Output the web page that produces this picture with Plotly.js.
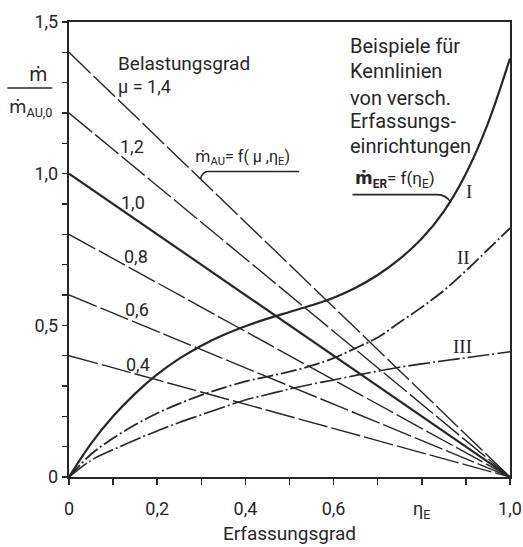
<!DOCTYPE html>
<html>
<head>
<meta charset="utf-8">
<script src="https://cdn.plot.ly/plotly-3.0.1.min.js"></script>
<style>html,body{margin:0;padding:0;background:#fff;}#chart{width:523px;height:547px;}</style>
</head>
<body>
<div id="chart"></div>
<script>
// ---- data ----
const eta = [0, 0.05, 0.1, 0.15, 0.2, 0.25, 0.3, 0.35, 0.4, 0.45, 0.5, 0.55, 0.6, 0.65, 0.7, 0.75, 0.8, 0.85, 0.9, 0.95, 1.0];
const curveI   = [0, 0.11, 0.20, 0.275, 0.338, 0.39, 0.433, 0.468, 0.497, 0.522, 0.544, 0.566, 0.591, 0.624, 0.666, 0.719, 0.786, 0.876, 1.0, 1.166, 1.38];
const curveII  = [0, 0.075, 0.128, 0.172, 0.21, 0.242, 0.27, 0.294, 0.315, 0.331, 0.347, 0.367, 0.392, 0.425, 0.46, 0.51, 0.56, 0.615, 0.68, 0.75, 0.82];
const curveIII = [0, 0.055, 0.09, 0.122, 0.152, 0.18, 0.205, 0.23, 0.254, 0.272, 0.29, 0.306, 0.32, 0.335, 0.349, 0.362, 0.373, 0.383, 0.393, 0.403, 0.413];
const muValues = [1.4, 1.2, 1.0, 0.8, 0.6, 0.4];
const muLabels = ['\u03bc = 1,4', '1,2', '1,0', '0,8', '0,6', '0,4'];
const muLabelPos = [[0.107, 1.287], [0.143, 1.089], [0.145, 0.904], [0.152, 0.726], [0.155, 0.551], [0.157, 0.37]];
const xTickVals = [0, 0.1, 0.2, 0.3, 0.4, 0.5, 0.6, 0.7, 0.8, 0.9, 1.0];
const xTickText = ['0', '', '0,2', '', '0,4', '', '0,6', '', '\u03b7<sub>E</sub>', '', '1,0'];
const yTickVals = [0, 0.1, 0.2, 0.3, 0.4, 0.5, 0.6, 0.7, 0.8, 0.9, 1.0, 1.1, 1.2, 1.3, 1.4, 1.5];
const yTickText = ['0', '', '', '', '', '0,5', '', '', '', '', '1,0', '', '', '', '', '1,5'];

const INK = '#262626';
const FONT = 'Roboto, "DejaVu Sans", sans-serif';
const mdot = 'm\u0307';

const traces = [];
muValues.forEach((mu) => {
  traces.push({
    x: [0, 1], y: [mu, 0], mode: 'lines', hoverinfo: 'skip',
    line: {color: INK, width: mu === 1.0 ? 2.2 : 1.4, dash: mu === 1.0 ? 'solid' : '30px,4px'}
  });
});
traces.push({x: eta, y: curveI, mode: 'lines', line: {color: INK, width: 2.2, shape: 'spline', smoothing: 1}});
traces.push({x: eta, y: curveII, mode: 'lines', line: {color: INK, width: 1.8, shape: 'spline', smoothing: 1, dash: '16px,3px,2px,3px'}});
traces.push({x: eta, y: curveIII, mode: 'lines', line: {color: INK, width: 1.6, shape: 'spline', smoothing: 1, dash: '22px,3px,2px,3px'}});

const ann = [];
function txt(x, y, text, opts) {
  ann.push(Object.assign({x: x, y: y, xref: 'x', yref: 'y', text: text, showarrow: false,
    xanchor: 'left', yanchor: 'middle', font: {family: FONT, size: 18, color: INK}}, opts || {}));
}
txt(0.107, 1.363, 'Belastungsgrad', {font: {family: FONT, size: 19, color: INK}});
muLabels.forEach((l, i) => {
  txt(muLabelPos[i][0], muLabelPos[i][1], l, {xanchor: i === 0 ? 'left' : 'center'});
});
txt(0.282, 1.053, mdot + '<sub>AU</sub>= f( \u03bc ,\u03b7<sub>E</sub>)', {font: {family: FONT, size: 16, color: INK}});
const blk = ['Beispiele f\u00fcr', 'Kennlinien', 'von versch.', 'Erfassungs-', 'einrichtungen'];
const blkY = [1.422, 1.337, 1.251, 1.172, 1.092];
blk.forEach((t, i) => txt(0.632, blkY[i], t, {font: {family: FONT, size: 20, color: INK}}));
txt(0.643, 0.98, '<b>' + mdot + '<sub>ER</sub></b>= f(\u03b7<sub>E</sub>)', {font: {family: FONT, size: 17, color: INK}});
const SERIF = '"Liberation Serif", "DejaVu Serif", serif';
txt(0.907, 0.94, 'I', {xanchor: 'center', font: {family: SERIF, size: 19, color: INK}});
txt(0.895, 0.725, 'II', {xanchor: 'center', font: {family: SERIF, size: 19, color: INK}});
txt(0.893, 0.43, 'III', {xanchor: 'center', font: {family: SERIF, size: 19, color: INK}});
// y-axis fraction title
ann.push({x: -0.07, y: 0.884, xref: 'paper', yref: 'paper', text: mdot, showarrow: false,
  font: {family: FONT, size: 19, color: INK}, xanchor: 'center', yanchor: 'middle'});
ann.push({x: -0.088, y: 0.812, xref: 'paper', yref: 'paper', text: mdot + '<sub>AU,0</sub>', showarrow: false,
  font: {family: FONT, size: 18, color: INK}, xanchor: 'center', yanchor: 'middle'});

const shapes = [
  {type: 'line', xref: 'paper', yref: 'paper', x0: -0.14, x1: -0.038, y0: 0.855, y1: 0.855, line: {color: INK, width: 1.6}},
  {type: 'path', xref: 'x', yref: 'y', path: 'M 0.298,0.983 Q 0.303,1.007 0.315,1.007 L 0.522,1.007', line: {color: INK, width: 1.6}},
  {type: 'path', xref: 'x', yref: 'y', path: 'M 0.643,0.931 L 0.835,0.931 Q 0.855,0.931 0.866,0.905', line: {color: INK, width: 1.6}}
];

const layout = {
  width: 523, height: 547,
  margin: {l: 69, r: 13, t: 22, b: 70},
  paper_bgcolor: '#fff', plot_bgcolor: '#fff',
  showlegend: false,
  font: {family: FONT, size: 18, color: INK},
  xaxis: {range: [0, 1], tickvals: xTickVals, ticktext: xTickText, ticks: 'outside', ticklen: 6, tickwidth: 1.5,
    tickcolor: INK, showgrid: false, zeroline: false, showline: true, mirror: true, linecolor: INK, linewidth: 2.2,
    ticklabelstandoff: 8,
    tickfont: {family: FONT, size: 18, color: INK},
    title: {text: 'Erfassungsgrad', font: {family: FONT, size: 19, color: INK}, standoff: 6}},
  yaxis: {range: [0, 1.5], tickvals: yTickVals, ticktext: yTickText, ticks: 'outside', ticklen: 5, tickwidth: 1.5,
    tickcolor: INK, showgrid: false, zeroline: false, showline: true, mirror: true, linecolor: INK, linewidth: 2.2,
    tickfont: {family: FONT, size: 18, color: INK}},
  annotations: ann,
  shapes: shapes
};
Plotly.newPlot('chart', traces, layout, {displayModeBar: false, staticPlot: true});
</script>
</body>
</html>
